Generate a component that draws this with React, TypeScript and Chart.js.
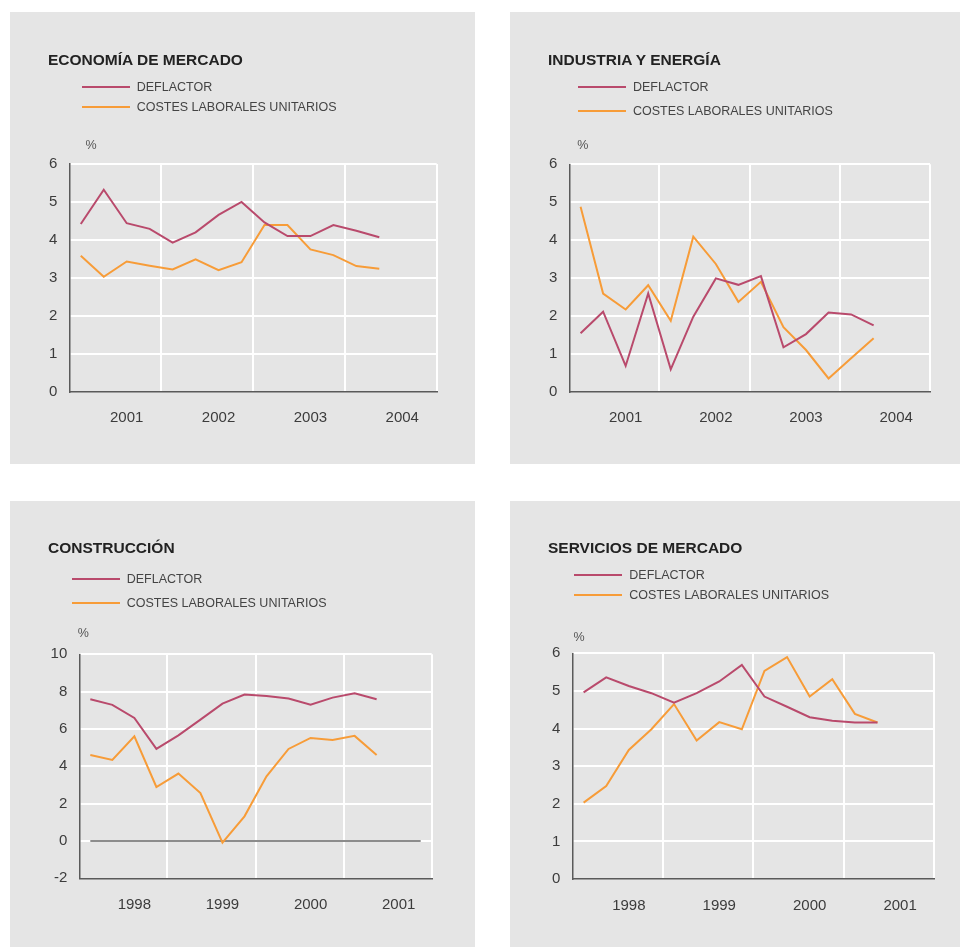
import React, { useEffect, useRef } from "react";
import { Chart, registerables } from "chart.js";

Chart.register(...registerables);

// ---------- data ----------
const YEARS_A = ["2001", "2002", "2003", "2004"];
const YEARS_B = ["1998", "1999", "2000", "2001"];

const LEGEND_LABELS = ["DEFLACTOR", "COSTES LABORALES UNITARIOS"];
const SERIES_COLORS = ["#b94a6c", "#f79c38"];

const ECON_DEFLACTOR = [4.42, 5.32, 4.44, 4.29, 3.93, 4.2, 4.66, 5.0, 4.46, 4.1, 4.1, 4.39, 4.24, 4.07];
const ECON_CLU = [3.58, 3.03, 3.43, 3.32, 3.22, 3.49, 3.2, 3.41, 4.39, 4.39, 3.75, 3.6, 3.31, 3.24];

const IND_DEFLACTOR = [1.54, 2.11, 0.68, 2.59, 0.59, 1.98, 2.99, 2.82, 3.05, 1.17, 1.52, 2.09, 2.04, 1.75];
const IND_CLU = [4.88, 2.59, 2.17, 2.81, 1.87, 4.09, 3.37, 2.37, 2.9, 1.7, 1.1, 0.35, 0.88, 1.41];

const CONS_DEFLACTOR = [7.59, 7.29, 6.59, 4.93, 5.66, 6.5, 7.36, 7.84, 7.77, 7.63, 7.3, 7.68, 7.91, 7.59];
const CONS_CLU = [4.61, 4.34, 5.61, 2.89, 3.61, 2.57, -0.09, 1.32, 3.46, 4.93, 5.52, 5.41, 5.63, 4.61];
const CONS_ZERO_LINE = [0, 0];

const SERV_DEFLACTOR = [4.96, 5.36, 5.13, 4.94, 4.69, 4.94, 5.25, 5.69, 4.85, 4.58, 4.3, 4.21, 4.16, 4.16];
const SERV_CLU = [2.03, 2.47, 3.43, 3.98, 4.65, 3.68, 4.17, 3.98, 5.53, 5.9, 4.85, 5.31, 4.39, 4.16];

const QUARTERS_PER_YEAR = 4;

// ---------- styling ----------
const BG = "#e5e5e5";
const FONT = "'Liberation Sans', Arial, Helvetica, sans-serif";
const TEXT = "#3c3c3c";

type PanelCfg = {
  title: string;
  series: number[][];
  years: string[];
  yMin: number;
  yMax: number;
  yStep: number;
  zeroLine?: number[];
  left: number;
  top: number;
  w: number;
  h: number;
  titleTop: number;
  legendLineLeft: number;
  legendTextLeft: number;
  legendRows: number[];
  pctX: number;
  pctY: number;
  plot: { l: number; r: number; t: number; b: number };
};

const PANELS: PanelCfg[] = [
  {
    title: "ECONOMÍA DE MERCADO",
    series: [ECON_DEFLACTOR, ECON_CLU],
    years: YEARS_A,
    yMin: 0, yMax: 6, yStep: 1,
    left: 10, top: 12, w: 465, h: 452,
    titleTop: 39.6,
    legendLineLeft: 71.7, legendTextLeft: 126.7, legendRows: [74.7, 94.7],
    pctX: 81, pctY: 133,
    plot: { l: 59.3, r: 426.7, t: 152, b: 379.7 },
  },
  {
    title: "INDUSTRIA Y ENERGÍA",
    series: [IND_DEFLACTOR, IND_CLU],
    years: YEARS_A,
    yMin: 0, yMax: 6, yStep: 1,
    left: 510, top: 12, w: 450, h: 452,
    titleTop: 39.6,
    legendLineLeft: 68, legendTextLeft: 123, legendRows: [75.3, 99],
    pctX: 72.7, pctY: 133,
    plot: { l: 59.3, r: 420, t: 152.3, b: 379.7 },
  },
  {
    title: "CONSTRUCCIÓN",
    series: [CONS_DEFLACTOR, CONS_CLU],
    years: YEARS_B,
    yMin: -2, yMax: 10, yStep: 2,
    zeroLine: CONS_ZERO_LINE,
    left: 10, top: 501, w: 465, h: 446,
    titleTop: 39.2,
    legendLineLeft: 62.3, legendTextLeft: 116.7, legendRows: [77.7, 101.7],
    pctX: 73.3, pctY: 132,
    plot: { l: 69.3, r: 421.7, t: 153.3, b: 377.3 },
  },
  {
    title: "SERVICIOS DE MERCADO",
    series: [SERV_DEFLACTOR, SERV_CLU],
    years: YEARS_B,
    yMin: 0, yMax: 6, yStep: 1,
    left: 510, top: 501, w: 450, h: 446,
    titleTop: 39.2,
    legendLineLeft: 64.3, legendTextLeft: 119.3, legendRows: [74, 94],
    pctX: 69, pctY: 136.3,
    plot: { l: 62.3, r: 424, t: 152.3, b: 378 },
  },
];

function Panel({ cfg }: { cfg: PanelCfg }) {
  const ref = useRef<HTMLCanvasElement | null>(null);

  useEffect(() => {
    if (!ref.current) return;
    const nYears = cfg.years.length;
    const xMax = nYears * QUARTERS_PER_YEAR;
    const datasets: any[] = cfg.series.map((vals, si) => ({
      label: LEGEND_LABELS[si],
      data: vals.map((v, i) => ({ x: i + 0.5, y: v })),
      borderColor: SERIES_COLORS[si],
      backgroundColor: SERIES_COLORS[si],
      borderWidth: 2,
      pointRadius: 0,
      tension: 0,
      order: 1,
    }));
    if (cfg.zeroLine) {
      datasets.push({
        label: "zero",
        data: cfg.zeroLine.map((v, i) => ({ x: i === 0 ? 0.5 : xMax - 0.5, y: v })),
        borderColor: "#666666",
        borderWidth: 1.5,
        pointRadius: 0,
        order: 10,
      });
    }
    const xTicks: number[] = [];
    for (let y = 0; y < nYears; y++) {
      xTicks.push(y * QUARTERS_PER_YEAR, y * QUARTERS_PER_YEAR + 2.5);
    }
    xTicks.push(xMax);

    const chart = new Chart(ref.current, {
      type: "line",
      data: { datasets },
      options: {
        animation: false,
        responsive: false,
        events: [],
        layout: {
          padding: { top: cfg.plot.t, right: cfg.w - cfg.plot.r, bottom: 0, left: 0 },
        },
        plugins: { legend: { display: false }, tooltip: { enabled: false }, title: { display: false } },
        scales: {
          x: {
            type: "linear",
            min: 0,
            max: xMax,
            afterBuildTicks: (s: any) => {
              s.ticks = xTicks.map((v) => ({ value: v }));
            },
            afterFit: (s: any) => {
              s.height = cfg.h - cfg.plot.b;
            },
            grid: {
              drawTicks: false,
              lineWidth: 2,
              color: (ctx: any) => {
                const v = ctx.tick ? ctx.tick.value : 0;
                return v > 0 && v % QUARTERS_PER_YEAR === 0 ? "#ffffff" : "rgba(0,0,0,0)";
              },
            },
            border: { color: "#5a5a5a", width: 1.5 },
            ticks: {
              autoSkip: false,
              maxRotation: 0,
              padding: 17.5,
              color: TEXT,
              font: { family: FONT, size: 15 },
              callback: (v: any) => {
                const n = Number(v);
                return n % QUARTERS_PER_YEAR === 2.5 ? cfg.years[Math.floor(n / QUARTERS_PER_YEAR)] : "";
              },
            },
          },
          y: {
            type: "linear",
            min: cfg.yMin,
            max: cfg.yMax,
            afterFit: (s: any) => {
              s.width = cfg.plot.l;
            },
            grid: {
              drawTicks: false,
              lineWidth: 2,
              color: (ctx: any) => {
                const v = ctx.tick ? ctx.tick.value : cfg.yMin;
                return v > cfg.yMin ? "#ffffff" : "rgba(0,0,0,0)";
              },
            },
            border: { color: "#5a5a5a", width: 1.5 },
            ticks: {
              stepSize: cfg.yStep,
              padding: 12,
              color: TEXT,
              font: { family: FONT, size: 15 },
            },
          },
        },
      },
    } as any);
    return () => chart.destroy();
  }, [cfg]);

  return (
    <div
      style={{
        position: "absolute",
        left: cfg.left,
        top: cfg.top,
        width: cfg.w,
        height: cfg.h,
        background: BG,
        fontFamily: FONT,
      }}
    >
      <canvas
        ref={ref}
        width={cfg.w}
        height={cfg.h}
        style={{ position: "absolute", left: 0, top: 0, width: cfg.w, height: cfg.h }}
      />
      <div
        style={{
          position: "absolute",
          left: 38,
          top: cfg.titleTop,
          fontSize: 15.5,
          lineHeight: "15.5px",
          fontWeight: "bold",
          color: "#222",
          whiteSpace: "nowrap",
        }}
      >
        {cfg.title}
      </div>
      {LEGEND_LABELS.map((lab, i) => (
        <div key={lab}>
          <div
            style={{
              position: "absolute",
              left: cfg.legendLineLeft,
              top: cfg.legendRows[i] - 1,
              width: 48,
              height: 2,
              background: SERIES_COLORS[i],
            }}
          />
          <div
            style={{
              position: "absolute",
              left: cfg.legendTextLeft,
              top: cfg.legendRows[i] - 8,
              height: 16,
              lineHeight: "16px",
              fontSize: 12.5,
              color: "#444",
              whiteSpace: "nowrap",
            }}
          >
            {lab}
          </div>
        </div>
      ))}
      <div
        style={{
          position: "absolute",
          left: cfg.pctX - 10,
          width: 20,
          textAlign: "center",
          top: cfg.pctY - 8,
          lineHeight: "16px",
          fontSize: 12.5,
          color: "#555",
        }}
      >
        %
      </div>
    </div>
  );
}

export default function App() {
  return (
    <div style={{ position: "absolute", left: 0, top: 0, width: 960, height: 947, background: "#fff" }}>
      {PANELS.map((p) => (
        <Panel key={p.title} cfg={p} />
      ))}
    </div>
  );
}
